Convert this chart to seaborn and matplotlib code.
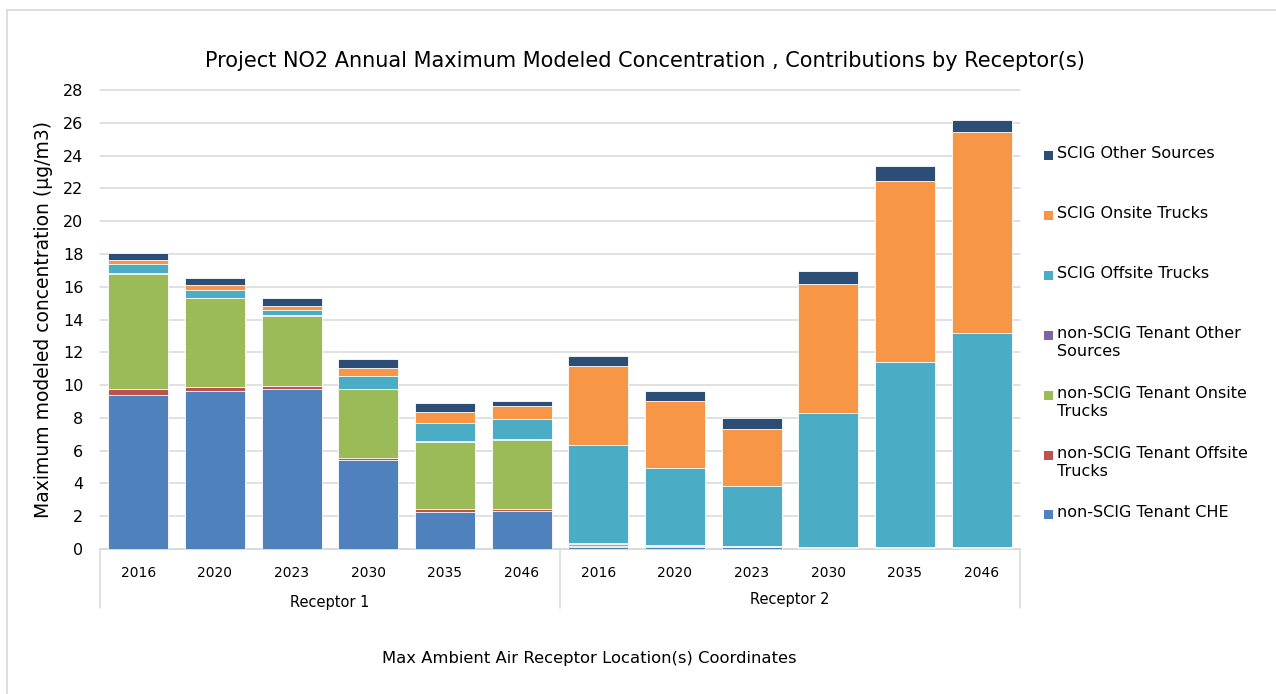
import matplotlib
matplotlib.use("Agg")
import matplotlib.pyplot as plt
from matplotlib.lines import Line2D
from matplotlib.patches import Rectangle
import numpy as np
import pandas as pd
import seaborn as sns

# categories
receptors = ["Receptor 1", "Receptor 2"]
years = ["2016", "2020", "2023", "2030", "2035", "2046"]

# series values, receptor 1 years then receptor 2 years (µg/m3)
tenant_che = [9.40, 9.61, 9.78, 5.41, 2.28, 2.34, 0.12, 0.10, 0.10, 0.02, 0.02, 0.02]
tenant_offsite = [0.35, 0.25, 0.16, 0.14, 0.14, 0.12, 0.06, 0.08, 0.03, 0.06, 0.06, 0.06]
tenant_onsite = [7.05, 5.45, 4.29, 4.21, 4.13, 4.21, 0.15, 0.03, 0.05, 0.04, 0.04, 0.04]
tenant_other = [0.03, 0.02, 0.02, 0.02, 0.02, 0.02, 0.02, 0.01, 0.01, 0.01, 0.01, 0.01]
scig_offsite = [0.56, 0.46, 0.36, 0.75, 1.09, 1.24, 6.00, 4.71, 3.68, 8.14, 11.27, 13.03]
scig_onsite = [0.24, 0.29, 0.23, 0.53, 0.69, 0.77, 4.79, 4.07, 3.48, 7.90, 11.04, 12.28]
scig_other = [0.45, 0.46, 0.46, 0.53, 0.55, 0.34, 0.61, 0.61, 0.63, 0.78, 0.92, 0.75]

series_names = [
    "non-SCIG Tenant CHE",
    "non-SCIG Tenant Offsite Trucks",
    "non-SCIG Tenant Onsite Trucks",
    "non-SCIG Tenant Other Sources",
    "SCIG Offsite Trucks",
    "SCIG Onsite Trucks",
    "SCIG Other Sources",
]
legend_labels = [
    "non-SCIG Tenant CHE",
    "non-SCIG Tenant Offsite\nTrucks",
    "non-SCIG Tenant Onsite\nTrucks",
    "non-SCIG Tenant Other\nSources",
    "SCIG Offsite Trucks",
    "SCIG Onsite Trucks",
    "SCIG Other Sources",
]
colors = ["#4F81BD", "#C0504D", "#9BBB59", "#8064A2", "#4BACC6", "#F79646", "#2C4D75"]

series_values = [tenant_che, tenant_offsite, tenant_onsite, tenant_other,
                 scig_offsite, scig_onsite, scig_other]

slots = list(range(len(receptors) * len(years)))
df = pd.DataFrame({name: vals for name, vals in zip(series_names, series_values)})
cum = df[series_names].cumsum(axis=1)
cum["slot"] = slots

sns.set_style("white")
plt.rcParams["font.family"] = ["DejaVu Sans"]
plt.rcParams["text.color"] = "black"
plt.rcParams["axes.labelcolor"] = "black"

fig = plt.figure(figsize=(12.76, 6.94), dpi=100)
ax = fig.add_axes([100 / 1276, 145 / 694, 920 / 1276, 459 / 694])

# stacked bars: draw cumulative totals from top layer down
for name, color in reversed(list(zip(series_names, colors))):
    sns.barplot(data=cum, x="slot", y=name, color=color, width=0.78,
                saturation=1, linewidth=0.6, edgecolor="white", ax=ax, zorder=3)

ax.set_ylim(0, 28)
ax.set_yticks(np.arange(0, 29, 2))
ax.set_xlim(-0.5, len(slots) - 0.5)
ax.grid(axis="y", color="#D9D9D9", linewidth=1.1, zorder=0)
ax.set_axisbelow(True)
for line in ax.get_ygridlines():
    line.set_clip_on(False)
for side in ["left", "right", "top"]:
    ax.spines[side].set_visible(False)
ax.spines["bottom"].set_color("#D9D9D9")
ax.spines["bottom"].set_linewidth(1.1)

ax.set_xticks(slots)
ax.set_xticklabels(years * len(receptors))
ax.tick_params(axis="x", length=0, pad=12, labelsize=10, colors="black")
ax.tick_params(axis="y", length=0, pad=12, labelsize=11.5, colors="black")
ax.set_xlabel("")
ax.set_ylabel("Maximum modeled concentration (µg/m3)", fontsize=13.5, labelpad=7)

# group separators and receptor labels
trans = ax.get_xaxis_transform()
for xpos in [-0.5, 5.5, 11.5]:
    ax.add_line(Line2D([xpos, xpos], [0, -0.128], transform=trans,
                       color="#D9D9D9", linewidth=1.1, clip_on=False))
for i, rec in enumerate(receptors):
    ax.text(i * len(years) + (len(years) - 1) / 2, -0.116 + 0.007 * i, rec,
            transform=trans, ha="center", va="center", fontsize=10.5)

fig.text(589 / 1276, 1 - 659 / 694, "Max Ambient Air Receptor Location(s) Coordinates",
         ha="center", va="center", fontsize=11.8)
fig.suptitle("Project NO2 Annual Maximum Modeled Concentration , Contributions by Receptor(s)",
             x=645 / 1276, y=1 - 61 / 694, va="center", fontsize=15)

# legend, top to bottom
legend_y = [156, 216, 276, 336, 396, 456, 515]
for lab, color, ypx in zip(reversed(legend_labels), reversed(colors), legend_y):
    fig.patches.append(Rectangle((1044 / 1276, 1 - (ypx + 4) / 694), 9 / 1276, 9 / 694,
                                 transform=fig.transFigure, facecolor=color,
                                 edgecolor="none"))
    fig.text(1057 / 1276, 1 - (ypx - 10) / 694, lab, ha="left", va="top",
             fontsize=11.5, linespacing=1.25)

# chart frame
fig.add_artist(Line2D([7 / 1276, 1.01], [1 - 10 / 694, 1 - 10 / 694],
                      transform=fig.transFigure, color="#D9D9D9", linewidth=1.2))
fig.add_artist(Line2D([7 / 1276, 7 / 1276], [-0.01, 1 - 10 / 694],
                      transform=fig.transFigure, color="#D9D9D9", linewidth=1.2))

fig.savefig("out.png", dpi=100, facecolor="white")
